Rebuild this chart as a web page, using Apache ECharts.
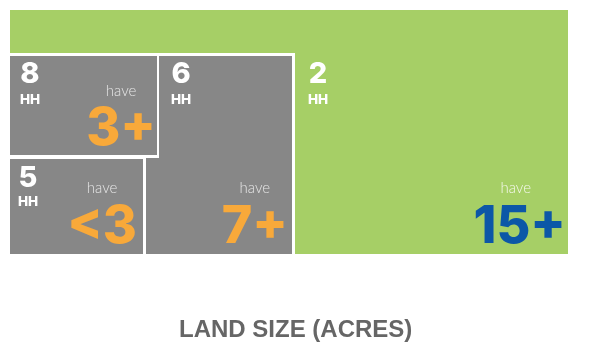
<!DOCTYPE html>
<html><head><meta charset="utf-8">
<script src="https://cdn.jsdelivr.net/npm/echarts@6/dist/echarts.min.js"></script>
<style>html,body{margin:0;padding:0;background:#fff}#c{width:604px;height:349px}</style>
</head><body><div id="c"></div>
<script>
// ---- data ----
const households = [2, 8, 5, 6];
const unitLabel = 'HH';
const landSizes = ['15+', '3+', '<3', '7+'];
const prefixWord = 'have';
const chartTitle = 'LAND SIZE (ACRES)';
// region outlines (axis units)
const regionShapes = [
  [[0,0],[558,0],[558,244],[0,244]],
  [[0,46],[147,46],[147,145],[0,145]],
  [[0,149],[133,149],[133,244],[0,244]],
  [[149,46],[282,46],[282,244],[136,244],[136,148],[149,148]]
];
const frameShape = [[0,43],[285,43],[285,244],[0,244]];

// ---- layout / style (axis units) ----
const numPos = [[308,64],[20,64],[18,168.5],[171,64]];   // center x, center y of number
const hhPos = [[308,89.5],[20,89.5],[18,192],[171,89.5]];
const valPos = [[556,217],[146,119],[127,217],[278,217]]; // right x, center y
const haveY = [178.5, 81.5, 178.5, 178.5];
const haveShift = [-4, 0, 0, 0];
const GREEN = '#a6cf66', GRAY = '#878787', ORANGE = '#f8a93a', BLUE = '#0c57a7';
const HEAVY = 'Inter';

const mc = document.createElement('canvas').getContext('2d');
function measure(txt, font){ mc.font = font; return mc.measureText(txt).width; }

function renderItem(params, api){
  const i = params.dataIndex;
  const pts = regionShapes[i].map(p => api.coord(p));
  const children = [{type:'polygon', shape:{points:pts}, style:{fill: i===0 ? GREEN : GRAY}}];
  if (i === 0) children.push({type:'polygon', shape:{points: frameShape.map(p => api.coord(p))}, style:{fill:'#fff'}});
  const np = api.coord(numPos[i]);
  children.push({type:'text', x: np[0], y: np[1], style:{text: String(households[i]), fill:'#fff', font:'800 29px ' + HEAVY, align:'center', verticalAlign:'middle'}});
  const hp = api.coord(hhPos[i]);
  children.push({type:'text', x: hp[0], y: hp[1], style:{text: unitLabel, fill:'#fff', font:'800 13.5px ' + HEAVY, align:'center', verticalAlign:'middle'}});
  const vp = api.coord(valPos[i]);
  const bigFont = '800 52px ' + HEAVY;
  const w = measure(landSizes[i], bigFont);
  children.push({type:'text', x: vp[0], y: vp[1], style:{text: landSizes[i], fill: i===0 ? BLUE : ORANGE, font: bigFont, align:'right', verticalAlign:'middle'}});
  const hy = api.coord([0, haveY[i]])[1];
  children.push({type:'text', x: vp[0] - w/2 + haveShift[i], y: hy, style:{text: prefixWord, fill: i===0 ? '#f4f8ec' : '#e6e6e6', font:'300 15px Lato', align:'center', verticalAlign:'middle'}});
  return {type:'group', children};
}

const chart = echarts.init(document.getElementById('c'));
chart.setOption({
  animation: false,
  title: {text: chartTitle, left: 174, top: 313, textStyle:{fontFamily: 'Liberation Sans', fontWeight:'bold', fontSize: 24, color:'#666'}},
  grid: {left: 10, top: 10, width: 558, height: 244},
  xAxis: {type:'value', min:0, max:558, show:false},
  yAxis: {type:'value', min:0, max:244, inverse:true, show:false},
  series: [{type:'custom', renderItem, data: households.map((h,i) => [i, h])}]
});
</script></body></html>
